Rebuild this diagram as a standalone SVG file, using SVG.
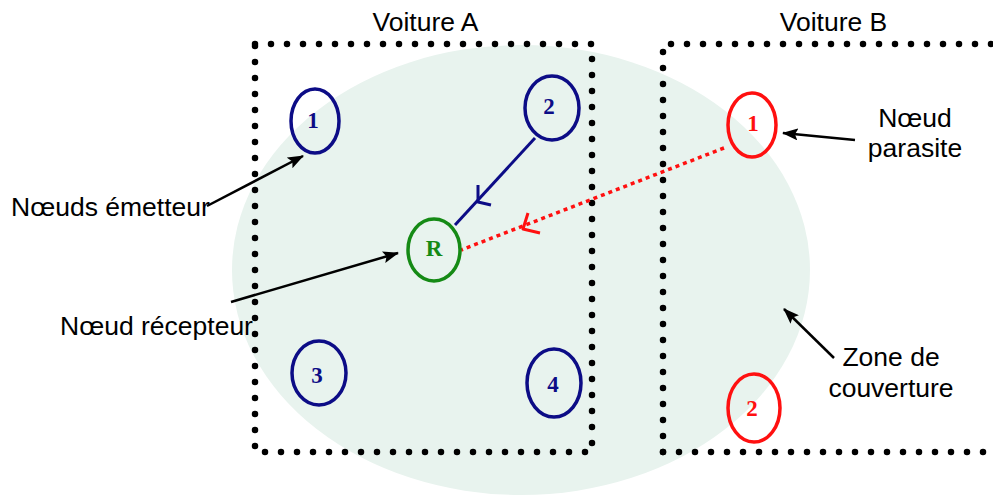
<svg xmlns="http://www.w3.org/2000/svg" width="993" height="495" viewBox="0 0 993 495">
<defs>
<marker id="ah" markerWidth="16" markerHeight="12" refX="15" refY="6" orient="auto" markerUnits="userSpaceOnUse" viewBox="0 0 16 12">
<path d="M0,0 L16,6 L0,12 L3,6 Z" fill="#000"/>
</marker>
<style>
.lbl{font-family:"Liberation Sans",Arial,sans-serif;font-size:26.5px;fill:#000}
.mid{text-anchor:middle}
.dots{fill:none;stroke:#000;stroke-width:6.5;stroke-linecap:round;stroke-dasharray:0 16}
.node{fill:none;stroke-width:3.5}
.blue{stroke:#0c0c86}
.green{stroke:#158a15}
.red{stroke:#ff1010}
.num{font-family:"Liberation Serif","Times New Roman",serif;font-size:23px;font-weight:bold;text-anchor:middle}
.callout{stroke:#000;stroke-width:2.5;fill:none;marker-end:url(#ah)}
</style>
</defs>
<rect width="993" height="495" fill="#fff"/>
<ellipse id="zone" cx="521" cy="270" rx="289" ry="225" fill="#e8f3ee"/>
<g id="voitureA">
<path class="dots" d="M255,44 L592,44 L592,452 L255,452 Z"/>
<text class="lbl mid" x="425.5" y="31">Voiture A</text>
</g>
<g id="voitureB">
<path class="dots" d="M663,452 L663,44 L1010,44"/>
<path class="dots" d="M663,452 L1010,452"/>
<text class="lbl mid" x="833.5" y="31">Voiture B</text>
</g>
<g id="connectors">
<line x1="535" y1="138" x2="455" y2="225" stroke="#0c0c86" stroke-width="3"/>
<path d="M478,185 L478,202 L491,205" fill="none" stroke="#0c0c86" stroke-width="3" stroke-linejoin="round"/>
<line x1="724" y1="148" x2="461" y2="250" stroke="#ff1010" stroke-width="3.5" stroke-dasharray="4 4"/>
<path d="M528,213 L523,229 L540,233" fill="none" stroke="#ff1010" stroke-width="3" stroke-linejoin="round"/>
<line class="callout" x1="207" y1="206" x2="303" y2="156"/>
<line class="callout" x1="231" y1="302" x2="398" y2="253"/>
<line class="callout" x1="855" y1="140" x2="783" y2="133"/>
<line class="callout" x1="834" y1="358" x2="784" y2="309"/>
</g>
<g id="n1"><ellipse class="node blue" cx="315" cy="121" rx="24" ry="32"/><text class="num" x="313" y="128" fill="#0c0c86">1</text></g>
<g id="n2"><ellipse class="node blue" cx="552" cy="108" rx="27" ry="32"/><text class="num" x="549" y="114" fill="#0c0c86">2</text></g>
<g id="nR"><ellipse class="node green" cx="434" cy="250" rx="26" ry="31"/><text class="num" x="434" y="256" fill="#158a15">R</text></g>
<g id="n3"><ellipse class="node blue" cx="319" cy="373" rx="27" ry="32"/><text class="num" x="317" y="383" fill="#0c0c86">3</text></g>
<g id="n4"><ellipse class="node blue" cx="554" cy="383" rx="27" ry="34"/><text class="num" x="553" y="392" fill="#0c0c86">4</text></g>
<g id="p1"><ellipse class="node red" cx="752" cy="125" rx="24" ry="32"/><text class="num" x="753" y="131" fill="#ff1010">1</text></g>
<g id="p2"><ellipse class="node red" cx="754" cy="408" rx="26" ry="34"/><text class="num" x="752" y="416" fill="#ff1010">2</text></g>
<g id="labels">
<text class="lbl" x="11" y="216">Nœuds émetteur</text>
<text class="lbl" x="60" y="335">Nœud récepteur</text>
<text class="lbl mid" x="915" y="127">Nœud</text>
<text class="lbl mid" x="915" y="157">parasite</text>
<text class="lbl mid" x="891" y="366">Zone de</text>
<text class="lbl mid" x="891" y="397">couverture</text>
</g>
</svg>
